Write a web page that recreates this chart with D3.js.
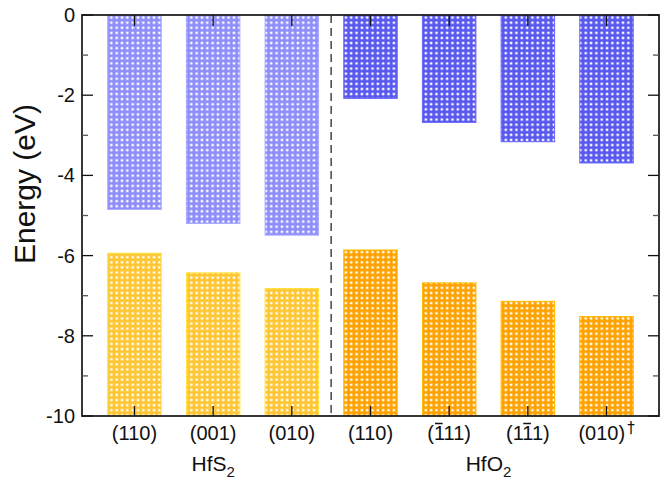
<!DOCTYPE html>
<html>
<head>
<meta charset="utf-8">
<script src="https://cdn.jsdelivr.net/npm/d3@7"></script>
<style>
	body { margin: 0; background: #fff; }
	text { font-family: "Liberation Sans", Arial, Helvetica, sans-serif; fill: #111; }
</style>
</head>
<body>
<div id="chart"></div>
<script>
// surfaces (x categories)
var surfaces = ["(110)", "(001)", "(010)", "(110)", "(111)", "(111)", "(010)"];
// which digit gets a bar over it (-1 = none)
var overbar = [-1, -1, -1, -1, 1, 2, -1];
var superscripts = ["", "", "", "", "", "", "\u2020"];
var material = ["HfS2", "HfS2", "HfS2", "HfO2", "HfO2", "HfO2", "HfO2"];
var groups = [
	{ name: "HfS", sub: "2", from: 1, to: 3 },
	{ name: "HfO", sub: "2", from: 4, to: 7 }
];
// band edges in eV
var cbm = [-4.85, -5.2, -5.49, -2.08, -2.68, -3.16, -3.69];
var vbm = [-5.94, -6.43, -6.82, -5.86, -6.68, -7.14, -7.52];
var yTicks = [0, -2, -4, -6, -8, -10];

var margin = { top: 15, right: 10, bottom: 65, left: 82 },
	width = 669 - margin.left - margin.right,
	height = 481 - margin.top - margin.bottom;

var x = d3.scaleLinear().domain([0.333, 7.667]).range([0, width]);
var y = d3.scaleLinear().domain([-10, 0]).range([height, 0]);
var barW = x(0.68) - x(0);

var svg = d3.select("#chart").append("svg")
	.attr("width", 669)
	.attr("height", 481);

// dotted fills
var fills = {
	"HfS2-c": "#8e8efb",
	"HfO2-c": "#5858f0",
	"HfS2-v": "#ffc633",
	"HfO2-v": "#ffa200"
};
var defs = svg.append("defs");
Object.keys(fills).forEach(function(k) {
	var p = defs.append("pattern")
		.attr("id", "pat-" + k)
		.attr("patternUnits", "userSpaceOnUse")
		.attr("width", 5.33)
		.attr("height", 5.1);
	p.append("rect").attr("width", 5.33).attr("height", 5.1).attr("fill", fills[k]);
	p.append("rect").attr("x", 1.5).attr("y", 1.4).attr("width", 2.4).attr("height", 2.3).attr("fill", "#fff");
});

var g = svg.append("g")
	.attr("transform", "translate(" + margin.left + "," + margin.top + ")");

var idx = d3.range(surfaces.length);

// conduction band (top bars)
g.selectAll(".cb")
	.data(idx)
	.enter().append("rect")
	.attr("class", "cb")
	.attr("x", function(i) { return x(i + 1) - barW / 2; })
	.attr("y", y(0))
	.attr("width", barW)
	.attr("height", function(i) { return y(cbm[i]) - y(0); })
	.attr("fill", function(i) { return "url(#pat-" + material[i] + "-c)"; })
	.attr("stroke", function(i) { return d3.color(fills[material[i] + "-c"]).brighter(0.5); })
	.attr("stroke-width", 1);

// valence band (bottom bars)
g.selectAll(".vb")
	.data(idx)
	.enter().append("rect")
	.attr("class", "vb")
	.attr("x", function(i) { return x(i + 1) - barW / 2; })
	.attr("y", function(i) { return y(vbm[i]); })
	.attr("width", barW)
	.attr("height", function(i) { return y(-10) - y(vbm[i]); })
	.attr("fill", function(i) { return "url(#pat-" + material[i] + "-v)"; })
	.attr("stroke", function(i) { return d3.color(fills[material[i] + "-v"]).brighter(0.4); })
	.attr("stroke-width", 1);

// separator
g.append("line")
	.attr("x1", x(3.5)).attr("x2", x(3.5))
	.attr("y1", 0).attr("y2", height)
	.attr("stroke", "#444")
	.attr("stroke-width", 1.5)
	.attr("stroke-dasharray", "8,5");

// frame
g.append("rect")
	.attr("width", width)
	.attr("height", height)
	.attr("fill", "none")
	.attr("stroke", "#222")
	.attr("stroke-width", 1.8);

// y ticks, inward on both sides
var minor = [-1, -3, -5, -7, -9];
yTicks.forEach(function(t) {
	g.append("line").attr("x1", 0).attr("x2", 11).attr("y1", y(t)).attr("y2", y(t)).attr("stroke", "#111").attr("stroke-width", 1.3);
	g.append("line").attr("x1", width).attr("x2", width - 11).attr("y1", y(t)).attr("y2", y(t)).attr("stroke", "#111").attr("stroke-width", 1.3);
	g.append("text")
		.attr("x", -7)
		.attr("y", y(t) + 7)
		.attr("text-anchor", "end")
		.style("font-size", "20px")
		.text(t);
});
minor.forEach(function(t) {
	g.append("line").attr("x1", 0).attr("x2", 6).attr("y1", y(t)).attr("y2", y(t)).attr("stroke", "#555").attr("stroke-width", 1.3);
	g.append("line").attr("x1", width).attr("x2", width - 6).attr("y1", y(t)).attr("y2", y(t)).attr("stroke", "#555").attr("stroke-width", 1.3);
});

// x ticks top and bottom
idx.forEach(function(i) {
	g.append("line").attr("x1", x(i + 1)).attr("x2", x(i + 1)).attr("y1", 0).attr("y2", 11).attr("stroke", "#111").attr("stroke-width", 1.3);
	g.append("line").attr("x1", x(i + 1)).attr("x2", x(i + 1)).attr("y1", height).attr("y2", height - 10).attr("stroke", "#111").attr("stroke-width", 1.3);
});

// x labels
var lab = g.selectAll(".xlab")
	.data(idx)
	.enter().append("text")
	.attr("class", "xlab")
	.attr("x", function(i) { return x(i + 1); })
	.attr("y", height + 24)
	.attr("text-anchor", "middle")
	.style("font-size", "20px");
lab.append("tspan").text(function(i) { return surfaces[i]; });
lab.filter(function(i) { return superscripts[i] !== ""; })
	.append("tspan")
	.attr("dx", 2)
	.attr("dy", -7)
	.style("font-size", "15px")
	.style("font-family", "'DejaVu Sans', sans-serif")
	.style("fill", "#111")
	.text(function(i) { return superscripts[i]; });

// bars over digits
lab.each(function(i) {
	if (overbar[i] < 0) return;
	var box = this.getExtentOfChar(overbar[i]);
	g.append("line")
		.attr("x1", box.x + 1).attr("x2", box.x + box.width - 1)
		.attr("y1", height + 7.5).attr("y2", height + 7.5)
		.attr("stroke", "#111")
		.attr("stroke-width", 1.5);
});

// material labels
groups.forEach(function(gr) {
	var t = g.append("text")
		.attr("x", (x(gr.from) + x(gr.to)) / 2)
		.attr("y", height + 55)
		.attr("text-anchor", "middle")
		.style("font-size", "21px");
	t.append("tspan").text(gr.name);
	t.append("tspan").attr("dy", 6).style("font-size", "15px").text(gr.sub);
});

// y axis title
svg.append("text")
	.attr("transform", "translate(35,184)rotate(-90)")
	.attr("text-anchor", "middle")
	.style("font-size", "30px")
	.text("Energy (eV)");
</script>
</body>
</html>
